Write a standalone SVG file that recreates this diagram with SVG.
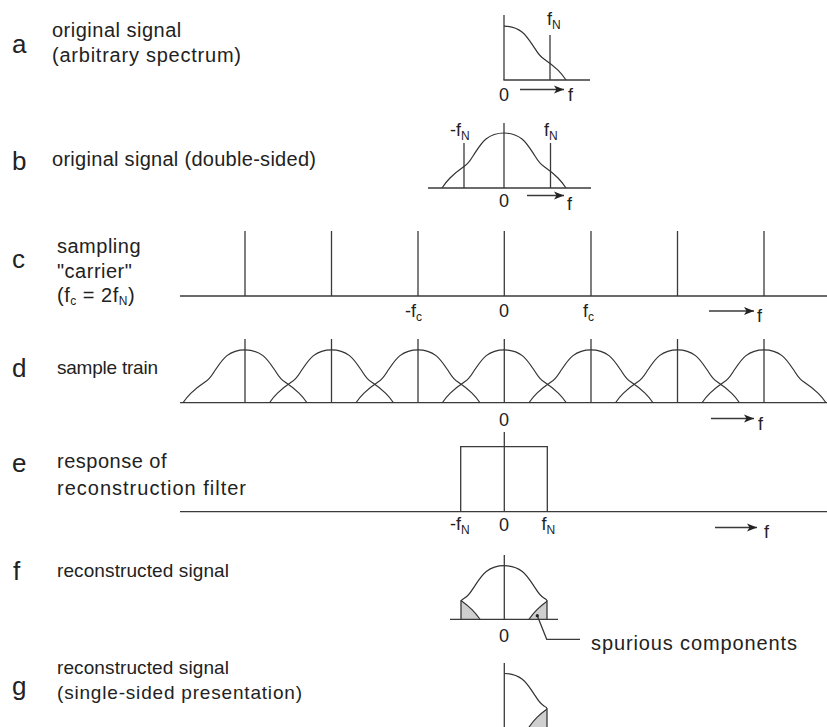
<svg xmlns="http://www.w3.org/2000/svg" xmlns:xlink="http://www.w3.org/1999/xlink" width="827" height="727" viewBox="0 0 827 727">
  <style>
    .ln { stroke: #3a3a3a; stroke-width: 1.3; fill: none; }
    .cv { stroke: #333; stroke-width: 1.2; fill: none; }
    .sh { stroke: #333; stroke-width: 1.2; fill: #cfcfcf; }
    .tag { font-family: "Liberation Sans", Arial, sans-serif; font-size: 26px; fill: #222; }
    .txt { font-family: "Liberation Sans", Arial, sans-serif; font-size: 20px; fill: #222; letter-spacing: 0.5px; }
    .fit { letter-spacing: 0; }
    .sm { font-size: 19px; }
    .ax { font-family: "Liberation Sans", Arial, sans-serif; font-size: 18px; fill: #222; }
    .sub { font-size: 12px; }
  </style>
  <defs>
    <!-- one spectral lobe, origin at centre of its base; half-width 62, height 55 -->
    <path id="bump" d="M-62,0 C-60,-3 -58,-6 -54,-10 C-50,-14 -45,-18 -40,-21.5 C-36,-24 -34,-27 -31,-32 C-27,-38 -23,-45 -18,-49 C-13,-53 -6,-55 0,-55 C6,-55 13,-53 18,-49 C23,-45 27,-38 31,-32 C34,-27 36,-24 40,-21.5 C45,-18 50,-14 54,-10 C58,-6 60,-3 62,0"/>
    <path id="half" d="M0,-55 C6,-55 13,-53 18,-49 C23,-45 27,-38 31,-32 C34,-27 36,-24 40,-21.5 C45,-18 50,-14 54,-10 C58,-6 60,-3 62,0"/>
    <marker id="head" markerUnits="userSpaceOnUse" markerWidth="11" markerHeight="9" refX="10" refY="4.5" orient="auto">
      <path d="M0,0.5 L10,4.5 L0,8.5 L2.5,4.5 z" fill="#222"/>
    </marker>
    <clipPath id="clipF"><rect x="461" y="540" width="86" height="79.3"/></clipPath>
    <clipPath id="clipG"><rect x="504" y="655" width="43" height="72"/></clipPath>
  </defs>

  <!-- a: original signal -->
  <g id="panel-a">
    <text class="tag" x="12" y="53">a</text>
    <text class="txt" x="52" y="37">original signal</text>
    <text class="txt fit" x="52" y="62" textLength="189" lengthAdjust="spacing">(arbitrary spectrum)</text>
    <line class="ln" x1="504" y1="15" x2="504" y2="80"/>
    <line class="ln" x1="503.4" y1="80" x2="590" y2="80"/>
    <line class="ln" x1="550" y1="35" x2="550" y2="80"/>
    <use href="#half" class="cv" transform="translate(504,80) scale(1,0.98)"/>
    <text class="ax" x="547" y="25">f<tspan class="sub" dy="4">N</tspan></text>
    <text class="ax" x="504" y="101" text-anchor="middle">0</text>
    <text class="ax" x="568" y="101">f</text>
  </g>

  <!-- b: double-sided spectrum -->
  <g id="panel-b">
    <text class="tag" x="12" y="170">b</text>
    <text class="txt fit" x="52" y="166" textLength="264" lengthAdjust="spacing">original signal (double-sided)</text>
    <line class="ln" x1="428" y1="188" x2="591" y2="188"/>
    <line class="ln" x1="504" y1="123" x2="504" y2="188"/>
    <line class="ln" x1="464" y1="143" x2="464" y2="188"/>
    <line class="ln" x1="550.5" y1="143" x2="550.5" y2="188"/>
    <use href="#bump" class="cv" transform="translate(504,188)"/>
    <text class="ax" x="450" y="136">-f<tspan class="sub" dy="4">N</tspan></text>
    <text class="ax" x="544" y="136">f<tspan class="sub" dy="4">N</tspan></text>
    <text class="ax" x="504" y="207" text-anchor="middle">0</text>
    <text class="ax" x="567" y="210">f</text>
  </g>

  <!-- c: sampling carrier -->
  <g id="panel-c">
    <text class="tag" x="12" y="268">c</text>
    <text class="txt" x="57" y="253">sampling</text>
    <text class="txt" x="57" y="278">"carrier"</text>
    <text class="txt" x="57" y="302">(f<tspan class="sub" dy="3">c</tspan><tspan dy="-3"> = 2f</tspan><tspan class="sub" dy="3">N</tspan><tspan dy="-3">)</tspan></text>
    <line class="ln" x1="180" y1="296" x2="827" y2="296"/>
    <line class="ln" x1="245" y1="231" x2="245" y2="296"/>
    <line class="ln" x1="331.5" y1="231" x2="331.5" y2="296"/>
    <line class="ln" x1="418" y1="231" x2="418" y2="296"/>
    <line class="ln" x1="504.3" y1="231" x2="504.3" y2="296"/>
    <line class="ln" x1="591" y1="231" x2="591" y2="296"/>
    <line class="ln" x1="677.5" y1="231" x2="677.5" y2="296"/>
    <line class="ln" x1="764" y1="231" x2="764" y2="296"/>
    <text class="ax" x="405" y="317">-f<tspan class="sub" dy="4">c</tspan></text>
    <text class="ax" x="504" y="317" text-anchor="middle">0</text>
    <text class="ax" x="583" y="317">f<tspan class="sub" dy="4">c</tspan></text>
    <text class="ax" x="757" y="322">f</text>
  </g>

  <!-- d: sample train -->
  <g id="panel-d">
    <text class="tag" x="12" y="377">d</text>
    <text class="txt fit sm" x="57" y="374" textLength="101" lengthAdjust="spacing">sample train</text>
    <line class="ln" x1="180" y1="402.7" x2="827" y2="402.7"/>
    <line class="ln" x1="245" y1="339" x2="245" y2="402.7"/>
    <line class="ln" x1="331.5" y1="339" x2="331.5" y2="402.7"/>
    <line class="ln" x1="418" y1="339" x2="418" y2="402.7"/>
    <line class="ln" x1="504.3" y1="339" x2="504.3" y2="402.7"/>
    <line class="ln" x1="591" y1="339" x2="591" y2="402.7"/>
    <line class="ln" x1="677.5" y1="339" x2="677.5" y2="402.7"/>
    <line class="ln" x1="764" y1="339" x2="764" y2="402.7"/>
    <use href="#bump" class="cv" transform="translate(245,402.7) scale(1,0.96)"/>
    <use href="#bump" class="cv" transform="translate(331.5,402.7) scale(1,0.96)"/>
    <use href="#bump" class="cv" transform="translate(418,402.7) scale(1,0.96)"/>
    <use href="#bump" class="cv" transform="translate(504.3,402.7) scale(1,0.96)"/>
    <use href="#bump" class="cv" transform="translate(591,402.7) scale(1,0.96)"/>
    <use href="#bump" class="cv" transform="translate(677.5,402.7) scale(1,0.96)"/>
    <use href="#bump" class="cv" transform="translate(764,402.7) scale(1,0.96)"/>
    <text class="ax" x="504" y="426" text-anchor="middle">0</text>
    <text class="ax" x="758" y="430">f</text>
  </g>

  <!-- e: reconstruction filter -->
  <g id="panel-e">
    <text class="tag" x="12" y="472">e</text>
    <text class="txt" x="57" y="468">response of</text>
    <text class="txt fit" x="57" y="495" textLength="189" lengthAdjust="spacing">reconstruction filter</text>
    <line class="ln" x1="180" y1="511.7" x2="827" y2="511.7"/>
    <polyline class="ln" points="460.7,511.7 460.7,446.7 547.3,446.7 547.3,511.7"/>
    <line class="ln" x1="504.3" y1="432" x2="504.3" y2="511.7"/>
    <text class="ax" x="450" y="530">-f<tspan class="sub" dy="4">N</tspan></text>
    <text class="ax" x="504" y="531" text-anchor="middle">0</text>
    <text class="ax" x="541.5" y="530">f<tspan class="sub" dy="4">N</tspan></text>
    <text class="ax" x="764" y="538">f</text>
  </g>

  <!-- f: reconstructed signal -->
  <g id="panel-f">
    <text class="tag" x="13" y="580">f</text>
    <text class="txt fit sm" x="57" y="577" textLength="172" lengthAdjust="spacing">reconstructed signal</text>
    <g clip-path="url(#clipF)">
      <use href="#bump" class="sh" transform="translate(418,619.3) scale(1,0.975)"/>
      <use href="#bump" class="sh" transform="translate(591,619.3) scale(1,0.975)"/>
      <use href="#bump" class="cv" transform="translate(504.3,619.3) scale(1,0.975)"/>
    </g>
    <line class="ln" x1="461" y1="600" x2="461" y2="619.3"/>
    <line class="ln" x1="547" y1="600" x2="547" y2="619.3"/>
    <line class="ln" x1="450" y1="619.3" x2="558" y2="619.3"/>
    <line class="ln" x1="504.3" y1="555" x2="504.3" y2="619.3"/>
    <text class="ax" x="504" y="642" text-anchor="middle">0</text>
    <text class="txt fit" x="591" y="650" textLength="206" lengthAdjust="spacing">spurious components</text>
  </g>

  <!-- g: single-sided reconstructed signal -->
  <g id="panel-g">
    <text class="tag" x="12" y="695">g</text>
    <text class="txt fit sm" x="57" y="674" textLength="172" lengthAdjust="spacing">reconstructed signal</text>
    <text class="txt fit sm" x="57" y="699" textLength="245" lengthAdjust="spacing">(single-sided presentation)</text>
    <g clip-path="url(#clipG)">
      <use href="#bump" class="sh" transform="translate(591,727.1) scale(1,0.975)"/>
      <use href="#bump" class="cv" transform="translate(504.3,727.1) scale(1,0.975)"/>
    </g>
    <line class="ln" x1="547" y1="708" x2="547" y2="727"/>
    <line class="ln" x1="504.3" y1="663" x2="504.3" y2="727"/>
  </g>

  <!-- frequency arrows and the leader to the spurious components -->
  <g id="connectors">
    <line class="ln" x1="520" y1="89.5" x2="564" y2="89.5" marker-end="url(#head)"/>
    <line class="ln" x1="527" y1="195.5" x2="564" y2="195.5" marker-end="url(#head)"/>
    <line class="ln" x1="709" y1="311" x2="754" y2="311" marker-end="url(#head)"/>
    <line class="ln" x1="711" y1="418.5" x2="754" y2="418.5" marker-end="url(#head)"/>
    <line class="ln" x1="715" y1="527.5" x2="757" y2="527.5" marker-end="url(#head)"/>
    <polyline class="ln" points="537.3,615.7 546.7,639.3 580,639.3"/>
    <circle cx="537.3" cy="615.7" r="1.6" fill="#222"/>
  </g>
</svg>
